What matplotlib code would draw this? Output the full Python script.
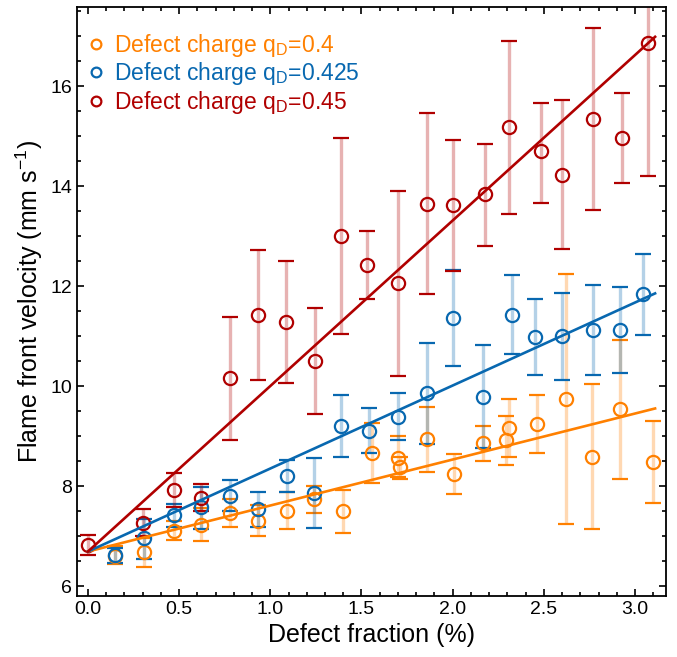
import numpy as np
import matplotlib.pyplot as plt
from matplotlib.lines import Line2D
from matplotlib.ticker import MultipleLocator

plt.rcParams['font.family'] = ['Liberation Sans', 'DejaVu Sans']
plt.rcParams['mathtext.fontset'] = 'custom'
plt.rcParams['mathtext.rm'] = 'Liberation Sans'
plt.rcParams['mathtext.it'] = 'Liberation Sans:italic'

# ============================================================
# data: defect fraction (%) vs flame front velocity (mm/s)
# ============================================================

# q_D = 0.4
x_04 = [0.15, 0.31, 0.47, 0.62, 0.78, 0.93, 1.09, 1.24, 1.40, 1.555, 1.70,
        1.71, 1.86, 2.01, 2.165, 2.29, 2.31, 2.46, 2.62, 2.765, 2.92, 3.10]
v_04 = [6.60, 6.69, 7.11, 7.23, 7.46, 7.31, 7.51, 7.74, 7.50, 8.67, 8.56,
        8.38, 8.94, 8.25, 8.86, 8.93, 9.17, 9.25, 9.75, 8.59, 9.54, 8.49]
hi_04 = [6.80, 6.97, 7.31, 7.56, 7.74, 7.62, 7.89, 8.00, 7.93, 9.27, 9.00,
         8.59, 9.58, 8.64, 9.21, 9.41, 9.74, 9.83, 12.25, 10.05, 10.92, 9.31]
lo_04 = [6.45, 6.39, 6.92, 6.91, 7.18, 7.01, 7.14, 7.46, 7.07, 8.07, 8.19,
         8.14, 8.29, 7.84, 8.51, 8.43, 8.59, 8.66, 7.24, 7.14, 8.14, 7.66]

# q_D = 0.425
x_0425 = [0.15, 0.31, 0.47, 0.62, 0.78, 0.93, 1.09, 1.24, 1.39, 1.54,
          1.70, 1.857, 2.00, 2.165, 2.325, 2.45, 2.60, 2.77, 2.92, 3.045]
v_0425 = [6.63, 6.96, 7.42, 7.58, 7.81, 7.54, 8.21, 7.87, 9.21, 9.11,
          9.38, 9.86, 11.36, 9.79, 11.43, 10.98, 11.00, 11.12, 11.12, 11.84]
hi_0425 = [6.77, 7.34, 7.64, 7.99, 8.12, 7.89, 8.52, 8.57, 9.83, 9.56,
           9.86, 10.86, 12.32, 10.82, 12.22, 11.75, 11.87, 12.03, 11.99, 12.65]
lo_0425 = [6.47, 6.55, 7.19, 7.14, 7.50, 7.18, 7.89, 7.16, 8.58, 8.66,
           8.93, 8.84, 10.41, 8.77, 10.65, 10.23, 10.13, 10.23, 10.26, 11.03]

# q_D = 0.45
x_045 = [0.0, 0.30, 0.47, 0.62, 0.78, 0.93, 1.085, 1.245, 1.385, 1.53,
         1.70, 1.857, 2.00, 2.18, 2.31, 2.485, 2.60, 2.77, 2.93, 3.07]
v_045 = [6.82, 7.27, 7.92, 7.76, 10.16, 11.42, 11.28, 10.50, 13.01, 12.43,
         12.07, 13.65, 13.62, 13.85, 15.18, 14.70, 14.22, 15.35, 14.97, 16.87]
hi_045 = [7.02, 7.54, 8.26, 8.04, 11.38, 12.72, 12.50, 11.56, 14.96, 13.11,
          13.91, 15.46, 14.93, 14.85, 16.90, 15.67, 15.72, 17.17, 15.87, 19.50]
lo_045 = [6.62, 7.00, 7.58, 7.51, 8.92, 10.12, 10.06, 9.44, 11.05, 11.75,
          10.21, 11.85, 12.31, 12.81, 13.45, 13.66, 12.75, 13.53, 14.06, 14.20]

# linear fits (intercept, slope)
fit_04 = (6.69, 0.92)
fit_0425 = (6.69, 1.66)
fit_045 = (6.69, 3.31)
fit_range = (0.0, 3.11)

labels = ['Defect charge q$_\\mathregular{D}$=0.4',
          'Defect charge q$_\\mathregular{D}$=0.425',
          'Defect charge q$_\\mathregular{D}$=0.45']
colors = ['#FF8000', '#0868B0', '#B00000']


# ============================================================
# plot
# ============================================================

fig = plt.figure(figsize=(6.77, 6.57), dpi=100)
ax = fig.add_axes([0.1137, 0.0928, 0.8701, 0.8965])

series = [(x_04, v_04, hi_04, lo_04, fit_04),
          (x_0425, v_0425, hi_0425, lo_0425, fit_0425),
          (x_045, v_045, hi_045, lo_045, fit_045)]

for (x, v, hi, lo, fit), col in zip(series, colors):
    x = np.asarray(x)
    v = np.asarray(v)
    yerr = [v - np.asarray(lo), np.asarray(hi) - v]
    eb = ax.errorbar(x, v, yerr=yerr, fmt='o', mfc='none', mec=col,
                     ms=9.5, mew=1.6, ecolor=col, elinewidth=2.4,
                     capsize=6, capthick=1.8, zorder=2)
    eb[2][0].set_alpha(0.3)
    xf = np.array(fit_range)
    ax.plot(xf, fit[0] + fit[1] * xf, '-', color=col, lw=1.9, zorder=3)

ax.set_xlim(-0.06, 3.17)
ax.set_ylim(5.8, 17.58)
ax.xaxis.set_major_locator(MultipleLocator(0.5))
ax.xaxis.set_minor_locator(MultipleLocator(0.1))
ax.yaxis.set_major_locator(MultipleLocator(2))
ax.yaxis.set_minor_locator(MultipleLocator(0.5))
ax.tick_params(which='both', direction='in', top=True, right=True,
               labelsize=14, width=1.2)
ax.tick_params(which='major', length=5)
ax.tick_params(which='minor', length=2.6)
for sp in ax.spines.values():
    sp.set_linewidth(1.3)

ax.set_xlabel('Defect fraction (%)', fontsize=18, labelpad=4)
ax.set_ylabel('Flame front velocity (mm s$^\\mathregular{-1}$)', fontsize=18,
              labelpad=4)

handles = [Line2D([], [], ls='none', marker='o', mfc='none', mec=c,
                  ms=7, mew=1.6) for c in colors]
leg = ax.legend(handles, labels, loc='upper left', frameon=False,
                fontsize=16.5, handlelength=0.8, handletextpad=0.4,
                labelspacing=0.05, borderaxespad=0.6,
                bbox_to_anchor=(-0.022, 0.996))
for txt, c in zip(leg.get_texts(), colors):
    txt.set_color(c)

plt.savefig('out.png', dpi=100)
